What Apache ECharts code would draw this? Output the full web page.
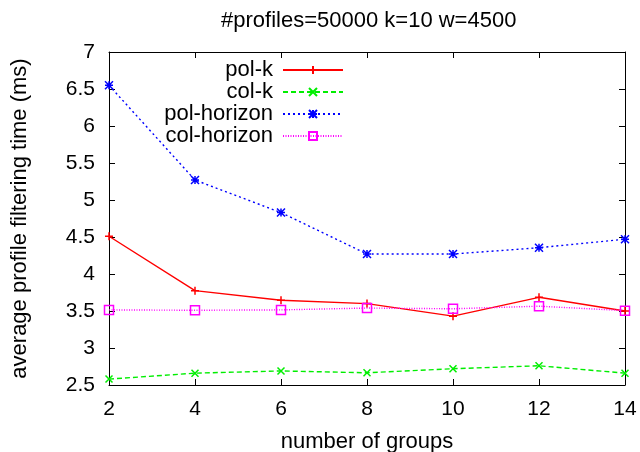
<!DOCTYPE html>
<html>
<head>
<meta charset="utf-8">
<script src="https://cdn.jsdelivr.net/npm/echarts@6/dist/echarts.min.js"></script>
<style>html,body{margin:0;padding:0;background:#fff}#c{width:640px;height:452px}</style>
</head>
<body>
<div id="c"></div>
<script>
const groups = [2, 4, 6, 8, 10, 12, 14];
const polK = [4.51, 3.775, 3.645, 3.60, 3.43, 3.685, 3.50];
const colK = [2.58, 2.66, 2.69, 2.665, 2.72, 2.76, 2.66];
const polHorizon = [6.55, 5.27, 4.83, 4.27, 4.27, 4.355, 4.47];
const colHorizon = [3.515, 3.51, 3.515, 3.54, 3.53, 3.565, 3.505];
const titleText = '#profiles=50000 k=10 w=4500';
const xName = 'number of groups';
const yName = 'average profile filtering time (ms)';

const FONT = '"Liberation Sans", Arial, sans-serif';
const FS = 21;
const FSN = 22;
const pair = arr => groups.map((g, i) => [g, arr[i]]);

const plusPath = 'path://M0,5 L10,5 M5,0 L5,10';
const crossPath = 'path://M0,0 L10,10 M10,0 L0,10';
const starPath = 'path://M0,5 L10,5 M5,0 L5,10 M0,0 L10,10 M10,0 L0,10';
const squarePath = 'path://M0,0 L10,0 L10,10 L0,10 Z';

function mk(name, data, color, type, symbol, size) {
  return {
    name, type: 'line', data: pair(data),
    symbol, symbolSize: size, showSymbol: true,
    lineStyle: { color, width: 1.4, type },
    itemStyle: { color: 'rgba(0,0,0,0)', borderColor: color, borderWidth: 1.5 },
    emphasis: { disabled: true },
    animation: false, z: 3
  };
}

const chart = echarts.init(document.getElementById('c'));
const tickStyle = { show: true, inside: true, length: 6, lineStyle: { color: '#000', width: 1 } };
chart.setOption({
  backgroundColor: '#fff',
  animation: false,
  title: {
    text: titleText, left: 216, top: 5,
    textStyle: { fontFamily: FONT, fontSize: FSN, fontWeight: 'normal', color: '#000' }
  },
  legend: {
    orient: 'vertical', align: 'right', right: 291, top: 54,
    itemWidth: 60, itemHeight: 10, itemGap: 0,
    textStyle: { fontFamily: FONT, fontSize: FSN, lineHeight: 22, color: '#000', padding: [0, 5, 0, 0] },
    data: ['pol-k', 'col-k', 'pol-horizon', 'col-horizon']
  },
  grid: { left: 109, right: 15, top: 52, bottom: 67, containLabel: false, outerBoundsMode: 'none' },
  xAxis: [{
    type: 'value', min: 2, max: 14, interval: 2, position: 'bottom',
    name: xName, nameLocation: 'middle', nameGap: 46,
    nameTextStyle: { fontFamily: FONT, fontSize: FSN, color: '#000' },
    axisLine: { show: true, onZero: false, lineStyle: { color: '#000', width: 1 } },
    axisTick: tickStyle,
    axisLabel: { fontFamily: FONT, fontSize: FS, color: '#000', margin: 14 },
    splitLine: { show: false }
  }, {
    type: 'value', min: 2, max: 14, interval: 2, position: 'top',
    axisLine: { show: true, onZero: false, lineStyle: { color: '#000', width: 1 } },
    axisTick: tickStyle, axisLabel: { show: false }, splitLine: { show: false }
  }],
  yAxis: [{
    type: 'value', min: 2.5, max: 7, interval: 0.5, position: 'left',
    name: yName, nameLocation: 'middle', nameGap: 78,
    nameTextStyle: { fontFamily: FONT, fontSize: FSN, color: '#000' },
    axisLine: { show: true, onZero: false, lineStyle: { color: '#000', width: 1 } },
    axisTick: tickStyle,
    axisLabel: { fontFamily: FONT, fontSize: FS, color: '#000', margin: 14 },
    splitLine: { show: false }
  }, {
    type: 'value', min: 2.5, max: 7, interval: 0.5, position: 'right',
    axisLine: { show: true, onZero: false, lineStyle: { color: '#000', width: 1 } },
    axisTick: tickStyle, axisLabel: { show: false }, splitLine: { show: false }
  }],
  series: [
    mk('pol-k', polK, '#ff0000', 'solid', plusPath, 8),
    mk('col-k', colK, '#00ee00', [5, 3], crossPath, 7),
    mk('pol-horizon', polHorizon, '#0000ff', [2, 3], starPath, 8),
    mk('col-horizon', colHorizon, '#ff00ff', [1, 1.5], squarePath, 9)
  ]
});
</script>
</body>
</html>
